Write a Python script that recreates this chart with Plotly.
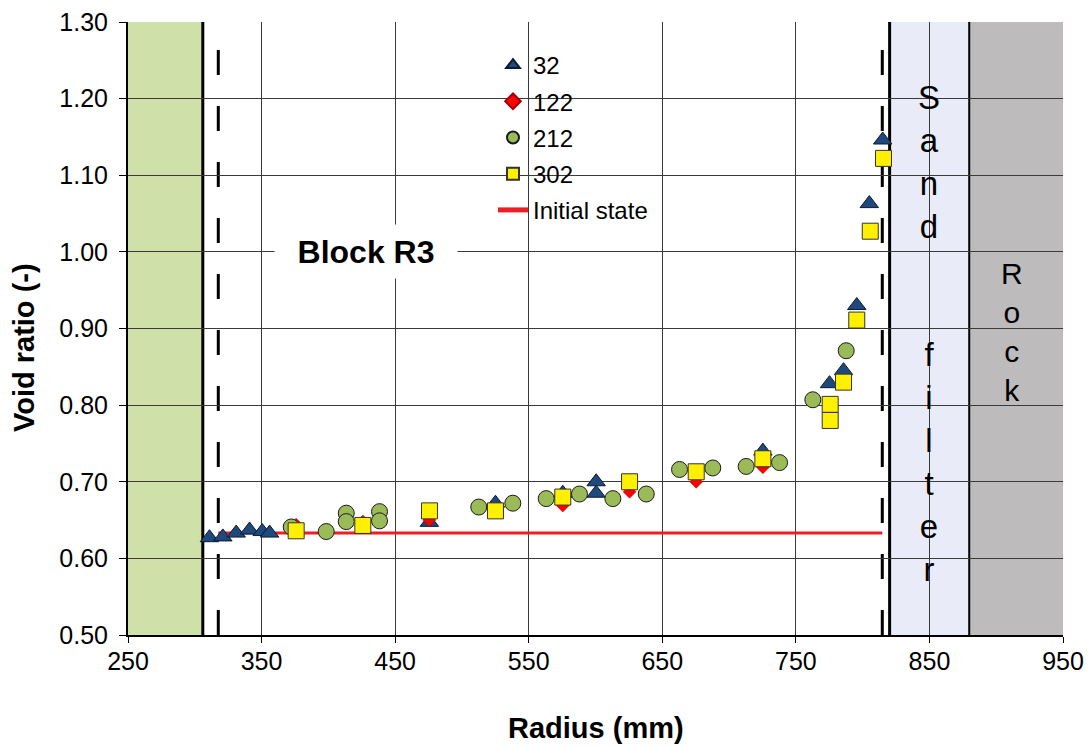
import plotly.graph_objects as go

# ---- data ----
r32 = [311.0, 321.0, 331.0, 341.0, 350.5, 356.0, 475.6, 525.1, 575.5, 600.5, 600.5, 725.3, 775.2, 785.7, 795.6, 805.0, 815.0]
e32 = [0.627, 0.628, 0.633, 0.637, 0.635, 0.633, 0.647, 0.672, 0.685, 0.700, 0.685, 0.740, 0.828, 0.845, 0.930, 1.063, 1.146]

r122 = [375.9, 425.8, 475.6, 525.1, 575.5, 625.5, 675.4, 725.3]
e122 = [0.644, 0.648, 0.650, 0.665, 0.669, 0.687, 0.700, 0.719]

r212 = [372.2, 398.4, 413.4, 413.4, 438.3, 438.3, 512.6, 538.1, 563.1, 588.0, 613.0, 638.0, 662.9, 687.8, 712.8, 737.8, 762.7, 787.7]
e212 = [0.641, 0.635, 0.659, 0.648, 0.661, 0.649, 0.667, 0.672, 0.678, 0.684, 0.678, 0.684, 0.716, 0.718, 0.720, 0.725, 0.807, 0.871]

r302 = [375.9, 425.8, 475.7, 525.1, 575.5, 625.5, 675.4, 725.3, 775.7, 775.7, 785.7, 795.6, 805.7, 815.6]
e302 = [0.636, 0.643, 0.662, 0.662, 0.680, 0.700, 0.713, 0.730, 0.801, 0.780, 0.830, 0.911, 1.027, 1.122]

init_r = [317.6, 814.7]
init_e = [0.633, 0.633]

# zone boundaries (mm)
block_inner = 306.0
dash_inner = 317.6
dash_outer = 814.7
block_outer = 820.2
filter_outer = 879.8
rock_outer = 950.0
x_min, x_max = 250, 950
y_min, y_max = 0.50, 1.30

x_ticks = [250, 350, 450, 550, 650, 750, 850, 950]
y_ticks = [0.50, 0.60, 0.70, 0.80, 0.90, 1.00, 1.10, 1.20, 1.30]

FONT = "Liberation Sans, Arial, sans-serif"

fig = go.Figure()

fig.add_trace(go.Scatter(x=init_r, y=init_e, mode="lines", name="Initial state",
                         line=dict(color="#EE1C25", width=3),
                         legendgroup="g5", legendrank=5))
fig.add_trace(go.Scatter(x=r32, y=e32, mode="markers", name="32",
                         marker=dict(symbol="triangle-up", size=16, color="#1F497D",
                                     line=dict(color="#0B1A30", width=1)),
                         legendgroup="g1", legendrank=1))
fig.add_trace(go.Scatter(x=r122, y=e122, mode="markers", name="122",
                         marker=dict(symbol="diamond", size=10, color="#FF0000",
                                     line=dict(color="#A00000", width=0.5)),
                         legendgroup="g2", legendrank=2))
fig.add_trace(go.Scatter(x=r212, y=e212, mode="markers", name="212",
                         marker=dict(symbol="circle", size=16, color="#9BBB59",
                                     line=dict(color="#1A1A1A", width=1)),
                         legendgroup="g3", legendrank=3))
fig.add_trace(go.Scatter(x=r302, y=e302, mode="markers", name="302",
                         marker=dict(symbol="square", size=16, color="#FFF000",
                                     line=dict(color="#333333", width=1)),
                         legendgroup="g4", legendrank=4))

shapes = [
    dict(type="rect", xref="x", yref="y", x0=x_min, x1=block_inner, y0=y_min, y1=y_max,
         fillcolor="#CFE0A8", line=dict(width=0), layer="below"),
    dict(type="rect", xref="x", yref="y", x0=block_outer, x1=filter_outer, y0=y_min, y1=y_max,
         fillcolor="#E9ECF8", line=dict(width=0), layer="below"),
    dict(type="rect", xref="x", yref="y", x0=filter_outer, x1=rock_outer, y0=y_min, y1=y_max,
         fillcolor="#BDBBBC", line=dict(width=0), layer="below"),
    dict(type="line", xref="x", yref="y", x0=block_inner, x1=block_inner, y0=y_min, y1=y_max,
         line=dict(color="black", width=3), layer="below"),
    dict(type="line", xref="x", yref="y", x0=block_outer, x1=block_outer, y0=y_min, y1=y_max,
         line=dict(color="black", width=3), layer="below"),
    dict(type="line", xref="x", yref="y", x0=filter_outer, x1=filter_outer, y0=y_min, y1=y_max,
         line=dict(color="black", width=2), layer="below"),
    dict(type="line", xref="x", yref="y", x0=dash_inner, x1=dash_inner, y0=y_min, y1=y_max,
         line=dict(color="black", width=3, dash="25px,31px"), layer="below"),
    dict(type="line", xref="x", yref="y", x0=dash_outer, x1=dash_outer, y0=y_min, y1=y_max,
         line=dict(color="black", width=3, dash="25px,31px"), layer="below"),
]

L, R, T, B = 128, 27, 22, 112
W, H = 1090, 747
pw, ph = W - L - R, H - T - B

annotations = [
    dict(text="<b>Block R3</b>", x=428, y=1.0, xref="x", yref="y", showarrow=False,
         font=dict(family=FONT, size=32, color="black"), bgcolor="white",
         width=168, height=39, borderpad=7),
    dict(text="S<br>a<br>n<br>d<br><br><br>f<br>i<br>l<br>t<br>e<br>r", x=850, y=0.894,
         xref="x", yref="y", showarrow=False, align="center",
         font=dict(family=FONT, size=33, color="black")),
    dict(text="R<br>o<br>c<br>k", x=912, y=0.895, xref="x", yref="y", showarrow=False,
         align="center", font=dict(family=FONT, size=30, color="black")),
    dict(text="<b>Void ratio (-)</b>", x=(24 - L) / pw, y=(H - B - 348) / ph,
         xref="paper", yref="paper", xanchor="center", yanchor="middle",
         showarrow=False, textangle=-90, font=dict(family=FONT, size=29, color="black")),
    dict(text="<b>Radius (mm)</b>", x=0.5, y=(H - B - 728) / ph, xref="paper", yref="paper",
         xanchor="center", yanchor="middle",
         showarrow=False, font=dict(family=FONT, size=29, color="black")),
]

fig.update_layout(
    template="none",
    width=W, height=H,
    margin=dict(l=L, r=R, t=T, b=B, autoexpand=False),
    paper_bgcolor="white", plot_bgcolor="white",
    font=dict(family=FONT, size=25, color="black"),
    shapes=shapes, annotations=annotations,
    showlegend=True,
    legend=dict(x=(493 - L) / pw, y=1 - (43 - T) / ph, xanchor="left", yanchor="top",
                bgcolor="rgba(0,0,0,0)", borderwidth=0, traceorder="grouped",
                tracegroupgap=2, itemsizing="constant",
                font=dict(family=FONT, size=24, color="black")),
)
fig.update_xaxes(range=[x_min, x_max], tickvals=x_ticks, ticktext=[str(v) for v in x_ticks],
                 automargin=False,
                 showgrid=True, gridcolor="#3A3A3A", gridwidth=1, zeroline=False,
                 showline=True, linecolor="black", linewidth=2,
                 ticks="outside", ticklen=6, tickcolor="black", tickwidth=1,
                 ticklabelstandoff=-3,
                 tickfont=dict(family=FONT, size=25, color="black"))
fig.update_yaxes(range=[y_min, y_max], tickvals=y_ticks, ticktext=[f"{v:.2f}" for v in y_ticks],
                 automargin=False,
                 showgrid=True, gridcolor="#3A3A3A", gridwidth=1, zeroline=False,
                 showline=True, linecolor="black", linewidth=2,
                 ticks="outside", ticklen=7, tickcolor="black", tickwidth=1,
                 ticklabelstandoff=6,
                 tickfont=dict(family=FONT, size=25, color="black"))

fig.write_html("out.html")
